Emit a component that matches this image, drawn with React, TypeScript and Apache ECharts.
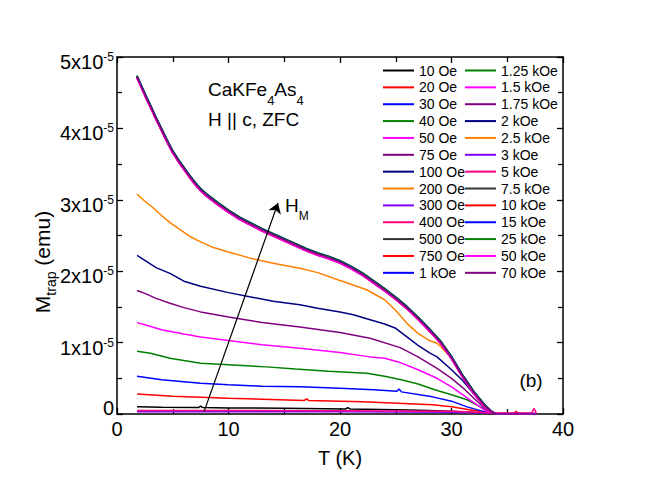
import React, { useEffect, useRef } from "react";
import * as echarts from "echarts";

const FONT = "'Liberation Sans', Arial, Helvetica, sans-serif";

// Legend labels (measurement field H_M), left and right legend columns
const FIELDS_LEFT = ["10 Oe", "20 Oe", "30 Oe", "40 Oe", "50 Oe", "75 Oe", "100 Oe", "200 Oe", "300 Oe", "400 Oe", "500 Oe", "750 Oe", "1 kOe"];
const FIELDS_RIGHT = ["1.25 kOe", "1.5 kOe", "1.75 kOe", "2 kOe", "2.5 kOe", "3 kOe", "5 kOe", "7.5 kOe", "10 kOe", "15 kOe", "25 kOe", "50 kOe", "70 kOe"];

const COLORS = [
  "#000000", "#ff0000", "#0000ff", "#008000", "#ff00ff", "#800080", "#000080", "#ff8000", "#8000ff", "#ff0080",
  "#333333", "#ff0000", "#0000ff", "#008000", "#ff00ff", "#800080", "#000080", "#ff8000", "#8000ff", "#ff0080",
  "#333333", "#ff0000", "#0000ff", "#008000", "#ff00ff", "#800080",
];

// Trapped moment, in units of 1e-5 emu, vs T (K)
const H10 = [[1.8, 0.1], [4, 0.095], [7.3, 0.09], [7.5, 0.11], [7.7, 0.09], [10, 0.085], [15, 0.08], [20.5, 0.07], [20.7, 0.09], [20.9, 0.07], [25, 0.06], [28, 0.05], [31, 0.03], [33, 0.01], [34, 0], [37.6, 0]];
const H20 = [[1.8, 0.28], [5, 0.25], [10, 0.22], [16.8, 0.19], [17, 0.21], [17.2, 0.19], [22, 0.17], [28.3, 0.13], [30, 0.1], [32, 0.05], [33.5, 0.01], [34, 0], [35.6, 0], [35.8, 0.04], [36, 0], [37.6, 0]];
const H30 = [[1.8, 0.53], [4, 0.48], [7.5, 0.43], [10, 0.41], [13, 0.39], [16.4, 0.38], [20, 0.36], [23, 0.34], [25.1, 0.32], [25.3, 0.35], [25.5, 0.31], [28.3, 0.24], [30, 0.18], [31.4, 0.1], [33, 0.03], [34, 0], [37.6, 0]];
const H40 = [[1.8, 0.88], [3, 0.85], [4.75, 0.78], [7.5, 0.71], [10, 0.69], [13.4, 0.66], [16, 0.63], [19, 0.6], [22.4, 0.57], [24, 0.53], [25.5, 0.48], [27, 0.42], [28.5, 0.34], [30, 0.27], [31.4, 0.2], [32.5, 0.11], [33.5, 0.03], [34, 0], [37.6, 0]];
const H50 = [[1.8, 1.28], [2.5, 1.25], [4, 1.18], [6, 1.12], [7.5, 1.08], [10, 1.03], [13, 0.97], [16.4, 0.92], [20, 0.86], [22.7, 0.8], [24, 0.78], [25.4, 0.72], [27, 0.62], [28.7, 0.5], [30, 0.38], [31, 0.27], [32, 0.16], [33, 0.05], [34, 0], [37.6, 0]];
const H75 = [[1.8, 1.73], [2.5, 1.69], [3.5, 1.62], [4.75, 1.55], [6, 1.49], [7.5, 1.43], [10, 1.36], [13, 1.28], [16.4, 1.22], [20, 1.14], [22.7, 1.06], [25.4, 0.93], [27, 0.8], [28.7, 0.64], [30, 0.5], [31, 0.37], [32, 0.22], [33, 0.08], [34, 0], [37.6, 0]];
const H100 = [[1.8, 2.22], [2.5, 2.15], [3.5, 2.05], [4.75, 1.97], [6, 1.86], [7.5, 1.79], [10, 1.7], [12, 1.64], [14, 1.58], [16.4, 1.53], [18, 1.48], [20, 1.43], [21.2, 1.39], [22.7, 1.32], [24, 1.26], [25, 1.2], [26, 1.08], [27, 0.96], [28, 0.86], [28.7, 0.8], [30, 0.62], [31, 0.47], [32, 0.28], [33, 0.1], [34, 0], [37.6, 0]];
const H200 = [[1.8, 3.08], [2.5, 2.98], [3, 2.92], [4, 2.78], [4.75, 2.68], [5.5, 2.6], [6.5, 2.49], [7.5, 2.41], [8.5, 2.34], [10, 2.27], [12, 2.18], [14, 2.11], [16.4, 2.04], [18, 1.98], [20, 1.87], [22.4, 1.74], [24, 1.6], [25, 1.45], [26, 1.27], [27, 1.13], [28, 1.03], [28.7, 0.99], [29, 0.95], [30, 0.78], [31, 0.53], [32, 0.3], [33, 0.11], [33.7, 0.02], [34, 0], [37.6, 0]];
const H300 = [[1.8, 0.03], [10, 0.03], [20, 0.03], [30, 0.025], [34, 0.01], [37.6, 0.01]];
const H400 = [[1.8, 0.05], [10, 0.05], [20, 0.045], [30, 0.04], [34, 0.015], [37.2, 0.015], [37.4, 0.08], [37.6, 0.015]];

// Saturated curve (H_M >= 500 Oe), shared by all high-field runs
const SAT = [
  [1.8, 4.72], [2.2, 4.58], [2.6, 4.44], [3, 4.31], [3.5, 4.14], [4, 3.98], [4.5, 3.82], [5, 3.67], [5.5, 3.55], [6, 3.44],
  [6.5, 3.33], [7, 3.23], [7.5, 3.14], [8, 3.07], [9, 2.95], [10, 2.84], [11, 2.74], [12, 2.66], [13, 2.58], [14, 2.51],
  [15, 2.44], [16, 2.37], [17, 2.3], [18, 2.24], [19, 2.19], [20, 2.13], [21, 2.05], [22, 1.96], [23, 1.85], [24, 1.74],
  [25, 1.62], [26, 1.49], [27, 1.34], [28, 1.18], [29, 1.01], [30, 0.79], [31, 0.53], [32, 0.3], [33, 0.11], [33.7, 0.02],
  [34, 0.005], [35, 0], [37.6, 0],
];
// Small run-to-run deviations of the saturated curves (500 Oe ... 70 kOe)
const SAT_SHIFT = [0, -0.015, 0.015, 0.02, -0.02, 0, 0.01, 0, -0.01, -0.015, 0.005, -0.01, 0.012, 0.008, -0.012, 0];

const LOW_DATA = [H10, H20, H30, H40, H50, H75, H100, H200, H300, H400];

// Arrow showing increasing H_M (data coords: T, M)
const ARROW_FROM = [7.8, 0.03];
const ARROW_TO = [14.44, 2.955];

export default function App() {
  const ref = useRef<HTMLDivElement>(null);

  useEffect(() => {
    if (!ref.current) return;
    const chart = echarts.init(ref.current, null, { renderer: "svg" });
    const names = [...FIELDS_LEFT, ...FIELDS_RIGHT];
    const series: any[] = names.map((name, i) => {
      let data: number[][];
      if (i < LOW_DATA.length) data = LOW_DATA[i];
      else {
        const s = SAT_SHIFT[i - LOW_DATA.length] || 0;
        data = SAT.map(([t, m]) => [t, m > 0.05 ? m + s : m]);
      }
      return {
        name,
        type: "line",
        data,
        showSymbol: false,
        symbol: "none",
        color: COLORS[i],
        lineStyle: { width: 1.5, color: COLORS[i] },
        itemStyle: { color: COLORS[i] },
        z: 2,
      };
    });
    series.push({
      name: "arrow",
      type: "line",
      data: [],
      silent: true,
      markLine: {
        silent: true,
        animation: false,
        symbol: ["none", "arrow"],
        symbolSize: 10,
        label: { show: false },
        itemStyle: { color: "#000" },
        lineStyle: { color: "#000", width: 1.2, type: "solid" },
        data: [[{ coord: ARROW_FROM }, { coord: ARROW_TO }]],
      },
      z: 5,
    });

    const axisCommon = {
      type: "value",
      axisLine: { show: true, onZero: false, lineStyle: { color: "#000", width: 1.5 } },
      axisTick: { show: true, inside: true, length: 6, lineStyle: { color: "#000", width: 1.3 } },
      minorTick: { show: true, splitNumber: 2, length: 5, lineStyle: { color: "#000", width: 1.3 } },
      splitLine: { show: false },
    };

    const legendCommon = {
      orient: "vertical",
      icon: "rect",
      itemWidth: 31,
      itemHeight: 2,
      itemGap: 2.86,
      selectedMode: false,
      textStyle: { fontSize: 14, lineHeight: 14, color: "#000", fontFamily: FONT },
      padding: 0,
    };

    chart.setOption({
      animation: false,
      textStyle: { fontFamily: FONT },
      grid: { left: 117, right: 91, top: 57, bottom: 83 },
      legend: [
        { ...legendCommon, data: FIELDS_LEFT, left: 383, top: 63.5 },
        { ...legendCommon, data: FIELDS_RIGHT, left: 465, top: 63.5 },
      ],
      xAxis: [
        {
          ...axisCommon,
          min: 0,
          max: 40,
          interval: 10,
          position: "bottom",
          name: "T (K)",
          nameLocation: "middle",
          nameGap: 34,
          nameTextStyle: { fontSize: 20, color: "#000", fontFamily: FONT },
          axisLabel: { fontSize: 20, color: "#000", margin: 5, fontFamily: FONT },
        },
        {
          ...axisCommon,
          min: 0,
          max: 40,
          interval: 10,
          position: "top",
          axisLabel: { show: false },
        },
      ],
      yAxis: [
        {
          ...axisCommon,
          min: 0,
          max: 5,
          interval: 1,
          position: "left",
          axisLabel: {
            margin: 3,
            formatter: (v: number) => (v === 0 ? "{z|0}" : `{b|${v}x10}{s|-5}`),
            rich: {
              b: { fontSize: 20, color: "#000", fontFamily: FONT, lineHeight: 20, verticalAlign: "bottom" },
              s: { fontSize: 12, color: "#000", fontFamily: FONT, lineHeight: 30, verticalAlign: "middle" },
              z: { fontSize: 20, color: "#000", fontFamily: FONT, lineHeight: 18, padding: [0, 0, 12, 0] },
            },
          },
        },
        {
          ...axisCommon,
          min: 0,
          max: 5,
          interval: 1,
          position: "right",
          axisLabel: { show: false },
        },
      ],
      graphic: [
        {
          type: "text",
          x: 43,
          y: 262,
          rotation: Math.PI / 2,
          style: {
            text: "{a|M}{s|trap}{a| (emu)}",
            align: "center",
            verticalAlign: "middle",
            rich: {
              a: { fontSize: 21, fontFamily: FONT, fill: "#000", lineHeight: 22, verticalAlign: "top" },
              s: { fontSize: 14, fontFamily: FONT, fill: "#000", lineHeight: 14, padding: [12, 0, 0, 0], verticalAlign: "top" },
            },
          },
        },
        {
          type: "text",
          x: 208,
          y: 80,
          style: {
            text: "{n|CaKFe}{s|4}{n|As}{s|4}",
            align: "left",
            verticalAlign: "top",
            rich: {
              n: { fontSize: 19, fontFamily: FONT, fill: "#000", lineHeight: 20, verticalAlign: "top" },
              s: { fontSize: 13, fontFamily: FONT, fill: "#000", lineHeight: 13, padding: [14, 0, 0, 0], verticalAlign: "top" },
            },
          },
        },
        {
          type: "text",
          x: 208,
          y: 119,
          style: { text: "H || c, ZFC", fontSize: 19, fontFamily: FONT, fill: "#000", align: "left", verticalAlign: "middle" },
        },
        {
          type: "text",
          x: 285,
          y: 195.5,
          style: {
            text: "{n|H}{s|M}",
            align: "left",
            verticalAlign: "top",
            rich: {
              n: { fontSize: 19, fontFamily: FONT, fill: "#000", lineHeight: 20, verticalAlign: "top" },
              s: { fontSize: 12, fontFamily: FONT, fill: "#000", lineHeight: 12, padding: [14, 0, 0, 0], verticalAlign: "top" },
            },
          },
        },
        {
          type: "text",
          x: 531,
          y: 380,
          style: { text: "(b)", fontSize: 19, fontFamily: FONT, fill: "#000", align: "center", verticalAlign: "middle" },
        },
      ],
      series,
    });
    return () => chart.dispose();
  }, []);

  return <div ref={ref} style={{ position: "fixed", left: 0, top: 0, width: 654, height: 497, background: "#fff" }} />;
}
